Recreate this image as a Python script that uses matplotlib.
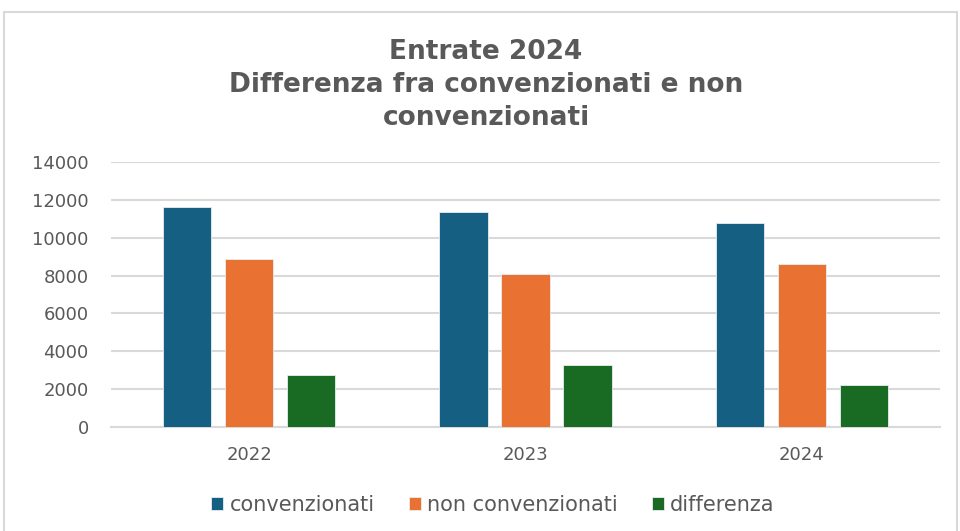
import numpy as np
import matplotlib
matplotlib.use("Agg")
import matplotlib.pyplot as plt
from matplotlib.patches import Rectangle

# data
years = ["2022", "2023", "2024"]
convenzionati = [11630, 11380, 10800]
non_convenzionati = [8900, 8090, 8590]
differenza = [2760, 3280, 2210]

series_names = ["convenzionati", "non convenzionati", "differenza"]
colors = ["#156082", "#E97132", "#196B24"]
yticks = [0, 2000, 4000, 6000, 8000, 10000, 12000, 14000]

grey = "#595959"

fig = plt.figure(figsize=(9.6, 5.31), dpi=100)
ax = fig.add_axes([111 / 960, 1 - 427 / 531, (940 - 111) / 960, (427 - 162) / 531])

# chart border
fig.patches.append(Rectangle((4 / 960, -0.01), (957 - 4) / 960, 1 - 12 / 531 + 0.01,
                             transform=fig.transFigure, fill=False,
                             edgecolor="#d9d9d9", linewidth=1.5))

x = np.arange(len(years))
w = 0.175
step = 0.224
for i, (vals, name, c) in enumerate(zip([convenzionati, non_convenzionati, differenza],
                                        series_names, colors)):
    ax.bar(x + (i - 1) * step, vals, width=w, color=c, label=name,
           edgecolor="#e8eef2", linewidth=0.6, zorder=3)

ax.set_xlim(-0.5, 2.5)
ax.set_ylim(0, 14000)
ax.set_yticks(yticks)
ax.set_yticklabels([str(v) for v in yticks])
ax.set_xticks(x)
ax.set_xticklabels(years)
ax.grid(axis="y", color="#d9d9d9", linewidth=1.5, zorder=0)
for s in ["top", "right", "left"]:
    ax.spines[s].set_visible(False)
ax.spines["bottom"].set_color("#d9d9d9")
ax.spines["bottom"].set_linewidth(1.5)
ax.tick_params(axis="both", length=0, colors=grey, labelsize=13)
ax.tick_params(axis="y", pad=16)
ax.tick_params(axis="x", pad=14)

fig.text(486 / 960, 1 - 85 / 531,
         "Entrate 2024\nDifferenza fra convenzionati e non\nconvenzionati",
         ha="center", va="center", fontsize=19, fontweight="bold", color=grey,
         linespacing=1.34)

leg = fig.legend(loc="center", bbox_to_anchor=(493 / 960, 1 - 505 / 531), ncol=3,
                 frameon=False, fontsize=15, handlelength=0.58, handleheight=0.58,
                 handletextpad=0.3, columnspacing=1.63)
for t in leg.get_texts():
    t.set_color(grey)

fig.savefig("out.png", dpi=100)
